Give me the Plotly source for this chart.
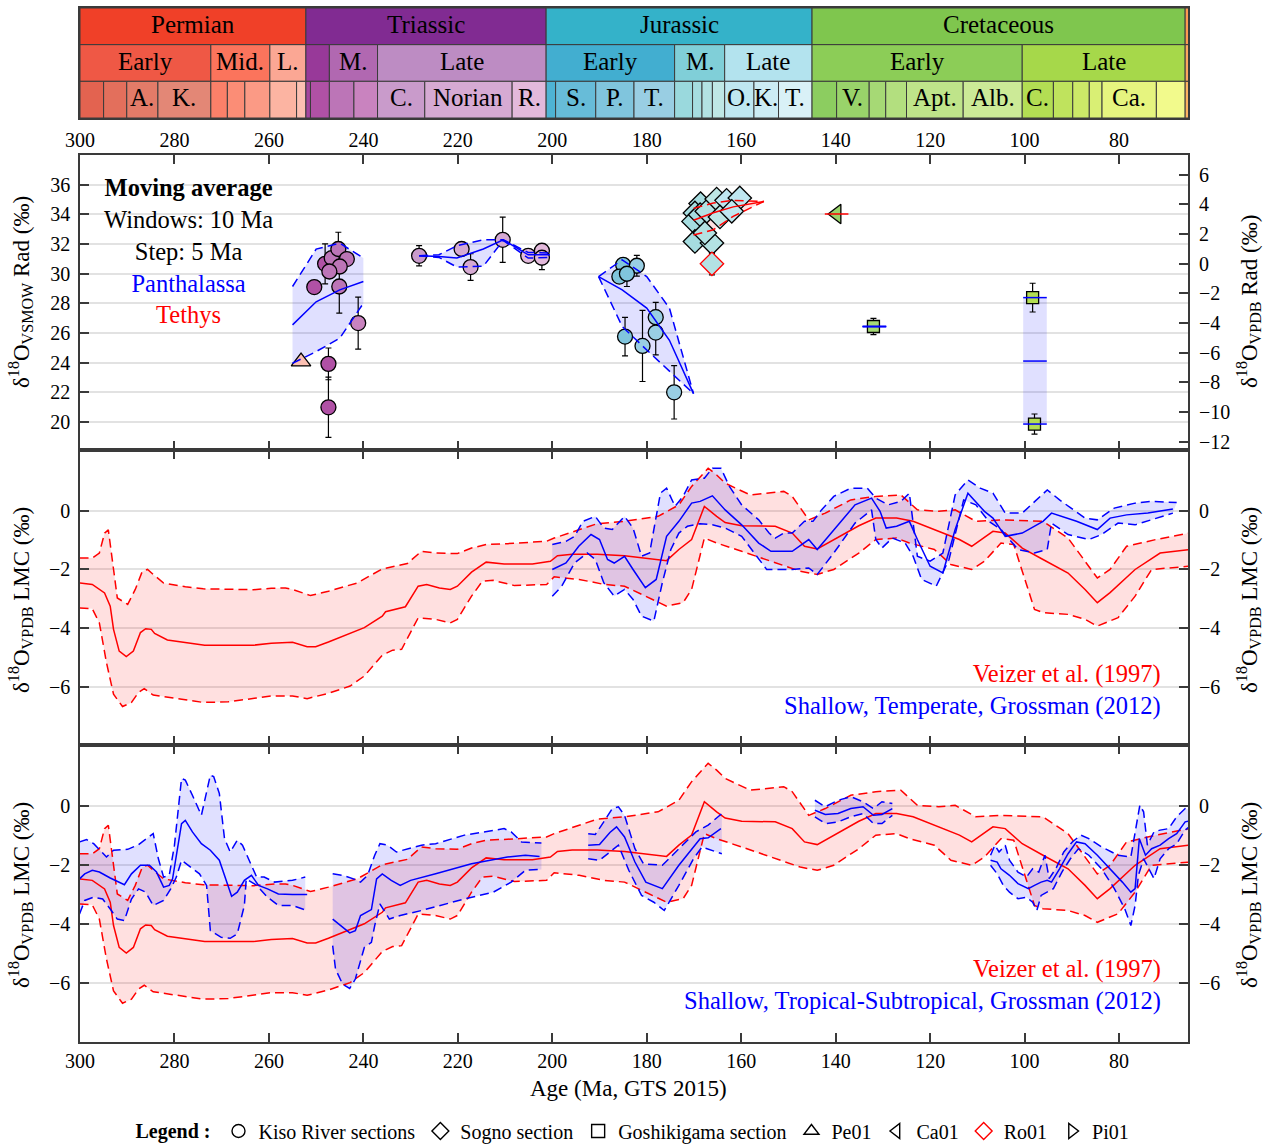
import plotly.graph_objects as go

FONT = "Liberation Serif"
W, H = 1268, 1144
ML, MR, MT, MB = 80, 80, 8, 102
X_RANGE = [300, 65.4]

# ---------------- Geologic time scale (GTS 2015) ----------------
PERIOD_START = [300.0, 252.17, 201.3, 145.0, 66.0]
PERIOD_END = [252.17, 201.3, 145.0, 66.0, 23.03]
PERIOD_LABEL = ["Permian", "Triassic", "Jurassic", "Cretaceous", ""]
PERIOD_COLOR = ["#F04028", "#812B92", "#34B2C9", "#7FC64E", "#FD9A52"]

EPOCH_START = [300.0, 272.3, 259.8, 252.17, 247.2, 237.0, 201.3, 174.1, 163.5, 145.0, 100.5, 66.0]
EPOCH_END = [272.3, 259.8, 252.17, 247.2, 237.0, 201.3, 174.1, 163.5, 145.0, 100.5, 66.0, 56.0]
EPOCH_LABEL = ["Early", "Mid.", "L.", "", "M.", "Late", "Early", "M.", "Late", "Early", "Late", ""]
EPOCH_COLOR = ["#EF5845", "#FB745C", "#FBA794", "#983999", "#B168B1", "#BD8CC3",
               "#42AED0", "#80CFD8", "#B3E3EE", "#8CCD57", "#A6D84A", "#FDA75F"]

STAGE_START = [300.0, 295.0, 290.1, 283.5, 272.3, 268.8, 265.1, 259.8, 254.14,
               252.17, 251.2, 247.2, 242.0, 237.0, 227.0, 208.5,
               201.3, 199.3, 190.8, 182.7, 174.1, 170.3, 168.3, 166.1, 163.5, 157.3, 152.1,
               145.0, 139.8, 132.9, 129.4, 125.0, 113.0, 100.5, 93.9, 89.8, 86.3, 83.6, 72.1, 66.0]
STAGE_END = STAGE_START[1:] + [61.6]
STAGE_LABEL = ["", "", "A.", "K.", "", "", "", "", "",
               "", "", "", "", "C.", "Norian", "R.",
               "", "S.", "P.", "T.", "", "", "", "", "O.", "K.", "T.",
               "", "V.", "", "", "Apt.", "Alb.", "C.", "", "", "", "Ca.", "", ""]
STAGE_COLOR = ["#E36350", "#E36F5C", "#E37B68", "#E38776", "#FB8069", "#FB8D76", "#FB9A85", "#FCB4A2", "#FCC0B2",
               "#A4469F", "#B051A5", "#BC75B7", "#C983BF", "#C99BCB", "#D6AAD3", "#E3B9DB",
               "#4EB3D3", "#67BCD8", "#80C5DD", "#99CEE3", "#9AD9DD", "#A6DDE0", "#B3E2E3", "#BFE7E5",
               "#BFE7F1", "#CCECF4", "#D9F1F7",
               "#8CCD60", "#99D36A", "#A6D975", "#B3DF7F", "#BFE48A", "#CCEA97", "#B3DE53", "#BFE35D",
               "#CCE968", "#D9EF74", "#E6F47F", "#F2FA8C", "#FDB462"]

# ---------------- Panel 1: radiolarian data ----------------
KISO_AGE = [250.4, 248.1, 246.7, 245.3, 243.5, 245.0, 247.2, 245.1, 241.1, 247.4, 247.4,
            228.2, 219.2, 217.3, 210.5, 205.1, 202.2, 202.2,
            185.0, 182.1, 185.8, 184.2, 184.6, 180.9, 178.1, 178.1, 174.2]
KISO_VAL = [29.09, 30.66, 31.05, 31.66, 30.98, 30.48, 30.14, 29.13, 26.66, 23.91, 20.98,
            31.20, 31.66, 30.44, 32.28, 31.20, 31.54, 31.07,
            30.59, 30.53, 29.80, 29.99, 25.75, 25.12, 27.06, 26.02, 21.99]
KISO_ERR = [0, 1.35, 0, 1.13, 0, 0, 0, 1.8, 1.75, 1.07, 2.03,
            0.68, 0, 0.9, 1.53, 0, 0, 0.8,
            0, 0.7, 0, 0.86, 1.3, 2.4, 1.0, 1.5, 1.8]

SOGNO_AGE = [168.6, 169.8, 170.1, 168.7, 167.3, 165.2, 163.1, 160.3, 164.5, 162.0, 169.8, 166.2, 167.7]
SOGNO_VAL = [34.72, 34.09, 33.52, 33.97, 34.20, 35.03, 34.94, 35.10, 33.82, 34.20, 32.17, 32.06, 32.74]
SOGNO_ERR = [0, 0, 0, 0, 0, 0, 0, 0, 0, 0, 0.63, 0.7, 0]

GOSHI_AGE = [132.0, 98.3, 97.9]
GOSHI_VAL = [26.43, 28.38, 19.85]
GOSHI_ERR = [0.55, 0.97, 0.68]

PE01_AGE, PE01_VAL = [253.2], [24.06]
CA01_AGE, CA01_VAL = [139.8], [34.02]
RO01_AGE, RO01_VAL, RO01_ERR = [166.2], [30.66], [0.74]

# moving averages (Panthalassa = blue, Tethys = red)
PAN1_AGE = [255.0, 250.0, 245.0, 240.0]
PAN1_MEAN = [26.54, 28.10, 28.90, 29.47]
PAN1_HI = [29.13, 31.65, 32.05, 31.05]
PAN1_LO = [23.95, 24.74, 25.64, 28.00]

PAN2_AGE = [228.2, 224.0, 220.2, 214.6, 210.4, 205.1, 200.5]
PAN2_MEAN = [31.20, 31.16, 31.05, 31.66, 32.28, 31.27, 31.27]
PAN2_HI = [31.20, 31.27, 31.88, 32.28, 32.28, 31.43, 31.38]
PAN2_LO = [31.20, 31.09, 30.44, 30.50, 32.24, 31.05, 31.09]

PAN3_AGE = [190.2, 185.2, 180.0, 175.2, 170.1]
PAN3_MEAN = [29.80, 28.90, 27.67, 25.50, 21.90]
PAN3_HI = [29.80, 30.93, 29.80, 27.67, 21.90]
PAN3_LO = [29.80, 26.43, 24.85, 23.40, 21.90]

PAN_WIN_AGE = [131.8, 97.8]
PAN_WIN_MEAN = [26.43, 24.10]
PAN_WIN_HI = [26.43, 28.38]
PAN_WIN_LO = [26.43, 19.85]

TET1_AGE = [170.1, 165.9, 161.7, 155.2]
TET1_MEAN = [33.60, 34.10, 34.50, 34.87]
TET1_HI = [34.40, 34.76, 34.94, 34.87]
TET1_LO = [32.60, 32.96, 33.86, 34.87]

TET_WIN_AGE = [139.8]
TET_WIN_MEAN = [34.02]
WIN_HALF = 2.5

VSMOW_TO_VPDB_OFFSET = 30.67

# ---------------- Panels 2 & 3: Veizer et al. (1997) ----------------
VEIZER_MEAN_AGE = [300.1, 297.4, 294.8, 293.6, 292.9, 291.7, 290.2, 288.7, 287.2, 286.1, 284.9, 284.2, 281.5,
                   277.7, 273.6, 263.3, 259.5, 255.0, 251.9, 250.1, 247.4, 239.8, 236.0, 235.3, 231.1, 228.4,
                   226.6, 223.9, 221.6, 220.1, 217.1, 214.0, 210.2, 204.2, 200.4, 198.9, 195.8, 190.5,
                   184.7, 175.8, 173.2, 170.5, 167.8, 165.2, 163.4, 159.9, 152.8, 149.2, 146.6, 143.9, 140.4,
                   135.1, 131.5, 127.1, 123.6, 119.1, 113.8, 111.2, 106.7, 104.1, 100.5, 96.1, 90.8, 87.2,
                   84.6, 81.9, 76.6, 71.3, 65.1]
VEIZER_MEAN = [-2.46, -2.51, -2.80, -3.25, -4.04, -4.78, -4.97, -4.78, -4.15, -4.02, -4.04, -4.18, -4.40,
               -4.49, -4.58, -4.58, -4.51, -4.48, -4.63, -4.63, -4.47, -3.98, -3.59, -3.44, -3.27, -2.57,
               -2.51, -2.63, -2.68, -2.57, -2.09, -1.75, -1.81, -1.81, -1.72, -1.53, -1.48, -1.48,
               -1.53, -1.70, -1.32, -0.98, 0.15, -0.19, -0.40, -0.51, -0.53, -0.76, -1.21, -1.30, -0.98,
               -0.51, -0.25, -0.25, -0.36, -0.64, -0.98, -1.21, -0.70, -0.76, -1.27, -1.66, -2.12, -2.68,
               -3.13, -2.79, -2.00, -1.44, -1.32]
VEIZER_HI_AGE = [300.1, 297.4, 295.9, 294.8, 294.0, 293.3, 292.1, 289.9, 288.3, 286.8, 285.7, 284.5, 282.3,
                 277.7, 273.9, 263.3, 259.5, 256.5, 255.0, 251.2, 247.4, 241.3, 236.0, 230.7, 227.7, 224.7,
                 220.1, 217.1, 214.0, 209.5, 201.2, 199.6, 194.3, 190.5,
                 184.7, 177.6, 173.2, 170.5, 167.0, 165.2, 163.4, 158.1, 151.0, 149.2, 145.7, 142.2, 136.8,
                 131.5, 126.2, 122.7, 118.2, 114.7, 110.3, 105.0, 96.1, 90.8, 84.6, 81.9, 78.4, 72.2, 65.1]
VEIZER_HI = [-1.61, -1.61, -1.44, -0.76, -0.65, -1.55, -2.97, -3.19, -2.68, -2.06, -2.00, -2.17, -2.46,
             -2.59, -2.66, -2.69, -2.64, -2.63, -2.68, -2.89, -2.74, -2.46, -1.98, -1.80, -1.38, -1.44,
             -1.46, -1.27, -1.15, -1.12, -1.04, -0.93, -0.65, -0.44,
             -0.36, -0.19, 0.20, 0.83, 1.45, 1.22, 0.94, 0.54, 0.66, 0.49, -0.31, -0.08, 0.37,
             0.49, 0.54, 0.03, -0.02, 0.03, -0.36, -0.31, -0.36, -0.93, -2.29, -2.00, -1.21, -0.98, -0.76]
VEIZER_LO_AGE = [300.1, 297.4, 295.9, 294.4, 292.9, 291.0, 289.1, 287.6, 286.4, 284.5, 277.7, 273.9, 268.6,
                 259.5, 255.0, 251.9, 247.4, 242.8, 239.8, 236.0, 233.8, 231.9, 228.4, 224.7, 221.6, 220.1,
                 217.1, 214.8, 212.5, 208.0, 201.2, 199.6, 194.3, 189.0,
                 184.7, 177.6, 175.8, 172.3, 170.5, 167.8, 165.2, 159.9, 152.8, 147.5, 143.9, 140.4, 135.1,
                 131.5, 127.1, 124.4, 119.1, 115.6, 111.2, 108.5, 105.0, 102.3, 97.9, 96.1, 90.8, 87.2,
                 84.6, 80.2, 76.6, 73.1, 65.1]
VEIZER_LO = [-3.31, -3.34, -3.82, -5.17, -6.25, -6.67, -6.53, -6.19, -6.06, -6.28, -6.44, -6.53, -6.51,
             -6.31, -6.31, -6.40, -6.22, -5.97, -5.63, -4.92, -4.75, -4.72, -3.65, -3.70, -3.82, -3.70,
             -2.91, -2.40, -2.37, -2.55, -2.51, -2.25, -2.34, -2.51,
             -2.57, -3.13, -3.25, -3.13, -2.68, -0.93, -1.10, -1.38, -1.78, -2.06, -2.17, -2.00, -1.44,
             -0.98, -0.93, -1.10, -1.32, -1.83, -2.00, -1.72, -1.10, -1.15, -3.36, -3.47, -3.53, -3.70,
             -3.93, -3.64, -2.91, -2.00, -1.89]

# ---------------- Panel 2: Shallow, Temperate (Grossman 2012) ----------------
TEMP_MEAN_AGE = [200.0, 197.1, 194.4, 191.8, 190.0, 188.3, 186.9, 184.7, 182.9, 180.3, 178.0, 175.8, 173.2,
                 170.5, 168.7, 166.1, 163.4, 159.9, 156.3, 153.7, 149.2, 145.7, 143.9, 140.4, 135.9, 132.4,
                 130.6, 129.3, 127.1, 124.4, 122.7, 120.0, 117.3, 114.7, 112.0, 108.5, 106.7, 104.1, 100.5,
                 96.1, 94.3, 89.0, 84.6, 81.9, 78.4, 73.9, 68.6]
TEMP_MEAN = [-2.00, -1.78, -1.21, -0.81, -0.98, -1.66, -1.78, -1.55, -2.00, -2.62, -2.34, -0.87, -0.36,
             0.26, 0.32, 0.51, 0.03, -0.48, -1.10, -1.38, -1.38, -0.98, -1.32, -0.64, 0.20, 0.43,
             -0.02, -0.59, -0.53, -0.36, -0.98, -1.89, -2.12, -0.64, 0.60, -0.02, -0.25, -0.87, -0.76,
             -0.36, -0.08, -0.36, -0.64, -0.25, -0.14, -0.08, 0.06]
TEMP_HI_AGE = [200.0, 197.1, 195.3, 193.5, 190.9, 189.1, 187.3, 184.7, 182.9, 181.1, 179.4, 177.1, 175.8,
               174.0, 172.3, 170.5, 167.8, 166.1, 164.3, 162.5, 159.9, 156.3, 154.1, 152.8, 151.0, 149.2,
               146.6, 144.8, 143.0, 140.4, 136.8, 133.3, 131.5, 128.9, 126.2, 124.4, 122.7, 120.0, 117.3,
               114.7, 112.0, 109.4, 106.7, 104.1, 100.5, 96.1, 95.2, 92.6, 87.2, 84.6, 81.0, 76.6, 73.1, 67.8]
TEMP_HI = [-1.15, -1.04, -0.87, -0.36, -0.19, -0.59, -0.64, -0.19, -0.59, -1.55, -1.44, 0.60, 0.77,
           0.15, 0.49, 1.05, 1.11, 1.45, 1.45, 0.83, 0.20, -0.31, -0.76, -0.93, -0.76, -0.76,
           -0.36, -0.36, 0.03, 0.49, 0.77, 0.77, 0.43, 0.20, 0.32, 0.60, -1.55, -1.72, -1.44,
           0.54, 1.05, 0.77, 0.60, -0.08, -0.08, 0.60, 0.71, 0.37, -0.25, -0.31, 0.09, 0.26, 0.32, 0.28]
TEMP_LO_AGE = [200.0, 198.0, 195.3, 192.6, 190.9, 189.1, 186.9, 184.7, 182.9, 181.1, 178.5, 176.7, 174.9,
               173.2, 171.4, 168.7, 166.1, 163.4, 159.9, 156.3, 154.6, 149.2, 145.7, 143.9, 140.4, 135.9,
               132.4, 131.5, 130.2, 128.0, 125.3, 123.6, 121.8, 118.7, 116.0, 112.9, 110.3, 107.6, 105.0,
               101.4, 97.9, 95.2, 94.3, 90.8, 86.4, 83.7, 80.2, 76.6, 73.1, 68.6]
TEMP_LO = [-2.91, -2.57, -1.78, -1.44, -1.66, -2.45, -2.91, -2.68, -3.02, -3.59, -3.76, -2.45, -1.32,
           -0.76, -0.53, -0.44, -0.48, -0.59, -0.87, -1.66, -2.00, -2.00, -1.95, -2.17, -1.44, -0.42,
           0.03, -0.98, -1.27, -0.93, -1.10, -1.55, -2.34, -2.57, -1.66, 0.37, 0.20, -0.36, -0.64,
           -1.32, -1.44, -1.32, -0.42, -0.81, -0.98, -0.81, -0.42, -0.48, -0.31, -0.08]

# ---------------- Panel 3: Shallow, Tropical-Subtropical (Grossman 2012), segments ----------------
TROP_MEAN_AGE = [
    [300.1, 299.0, 297.4, 295.9, 293.6, 290.6, 289.1, 287.2, 285.3, 283.8, 282.3, 281.1, 280.4, 279.2, 278.5,
     277.7, 276.2, 274.3, 272.4, 270.5, 269.0, 267.9, 266.7, 265.2, 263.7, 262.2, 260.3, 258.0, 255.0, 251.9],
    [246.5, 244.4, 242.9, 241.7, 240.6, 238.3, 237.2, 236.0, 234.1, 232.2, 230.0, 224.7, 217.1, 209.5, 205.7, 202.7],
    [192.4, 190.0, 187.8, 186.4, 184.7, 182.5, 180.2, 176.7, 173.2, 168.7, 167.0, 164.3],
    [144.4, 142.2, 139.5, 136.8, 134.2, 132.0, 130.2, 128.0],
    [107.2, 105.8, 105.0, 103.2, 101.4, 99.2, 97.9, 96.5, 95.2, 94.3, 92.6, 90.8, 89.0, 87.2, 84.6, 81.9,
     79.3, 77.5, 76.6, 75.7, 74.4, 73.1, 71.3, 69.5, 67.8, 66.0, 64.7],
]
TROP_MEAN = [
    [-2.46, -2.29, -2.17, -2.23, -2.43, -2.66, -2.29, -2.00, -2.00, -2.23, -2.74, -2.68, -2.46, -1.32, -0.59,
     -0.48, -0.87, -1.27, -1.49, -1.83, -2.57, -3.05, -2.91, -2.51, -2.34, -2.68, -2.80, -2.97, -2.99, -2.99],
    [-3.82, -4.10, -4.29, -4.21, -3.70, -3.50, -2.46, -2.29, -2.51, -2.68, -2.51, -2.29, -1.95, -1.72, -1.66, -1.70],
    [-1.32, -1.30, -0.89, -0.70, -1.04, -1.89, -2.57, -2.79, -2.00, -1.10, -1.07, -0.76],
    [-0.14, -0.28, -0.25, -0.08, -0.02, -0.31, -0.28, -0.08],
    [-1.83, -1.89, -2.12, -2.34, -2.62, -2.79, -2.68, -2.57, -2.51, -2.57, -2.12, -1.61, -1.21, -1.27, -1.66, -2.12,
     -2.57, -2.91, -2.79, -1.10, -1.66, -1.44, -1.32, -1.10, -0.93, -0.53, -0.48],
]
TROP_HI_AGE = [
    [300.1, 298.6, 297.1, 295.5, 294.4, 292.9, 289.9, 287.6, 284.5, 283.4, 282.3, 281.1, 280.0, 278.5, 277.7,
     276.2, 274.3, 272.4, 271.7, 270.5, 269.4, 268.2, 266.7, 265.6, 264.1, 262.6, 261.0, 258.8, 255.0, 252.3],
    [246.5, 244.4, 242.1, 240.6, 239.1, 237.6, 236.5, 234.9, 233.0, 230.7, 227.7, 224.7, 218.6, 210.2, 208.7,
     206.5, 202.3],
    [192.4, 190.9, 189.1, 187.3, 186.0, 184.7, 182.5, 180.7, 176.7, 173.2, 169.6, 167.0, 164.1],
    [144.4, 142.2, 139.5, 136.8, 134.2, 132.0, 130.2, 128.0],
    [107.2, 106.3, 105.4, 104.1, 103.2, 101.4, 99.6, 98.3, 97.0, 95.7, 94.8, 93.4, 91.7, 89.9, 88.1, 86.4, 83.7,
     80.2, 77.5, 76.6, 75.6, 74.8, 74.0, 72.6, 71.3, 69.5, 67.8, 66.0, 64.7],
]
TROP_HI = [
    [-1.21, -1.13, -1.27, -1.55, -1.72, -1.49, -1.46, -1.30, -0.93, -1.78, -2.40, -2.34, -1.32, 0.94, 0.88,
     0.37, -0.31, 1.05, 1.00, 0.43, -1.10, -1.55, -1.15, -1.32, -1.89, -2.40, -2.40, -2.57, -2.51, -2.40],
    [-2.29, -2.34, -2.46, -2.57, -2.34, -1.66, -1.27, -1.32, -1.55, -1.44, -1.32, -1.27, -0.98, -0.76, -0.87,
     -1.21, -1.25],
    [-0.93, -0.96, -0.53, -0.08, -0.02, -0.31, -1.44, -1.95, -2.00, -1.44, -0.87, -0.64, -0.25],
    [0.20, -0.02, 0.20, 0.32, 0.15, -0.08, 0.15, 0.09],
    [-1.66, -1.32, -1.55, -1.32, -1.83, -2.23, -2.40, -2.12, -2.23, -1.66, -2.45, -2.12, -1.55, -1.21, -0.98,
     -1.10, -1.38, -1.66, -1.72, -0.87, 0.03, -0.19, -1.32, -0.87, -0.81, -0.76, -0.36, -0.08, -0.14],
]
TROP_LO_AGE = [
    [300.1, 299.0, 297.1, 295.2, 293.6, 292.1, 290.6, 289.1, 287.6, 286.1, 284.5, 282.3, 280.8, 279.6, 278.5,
     277.0, 274.7, 273.2, 272.4, 270.1, 268.2, 266.7, 265.2, 264.8, 262.6, 260.3, 258.0, 255.0, 252.3],
    [246.5, 245.9, 244.4, 242.9, 241.7, 239.8, 238.3, 237.6, 236.5, 234.5, 232.2, 227.7, 218.6, 212.5, 208.7,
     205.7, 202.3],
    [192.4, 190.0, 187.8, 186.0, 183.8, 181.1, 178.5, 176.3, 173.2, 170.1, 168.3, 166.1, 164.1],
    [144.4, 142.2, 139.5, 136.8, 134.2, 132.0, 130.2, 128.0],
    [107.2, 105.8, 104.5, 103.2, 101.4, 99.6, 98.3, 97.4, 96.5, 95.2, 93.9, 92.1, 90.3, 88.6, 86.4, 83.7, 81.0,
     78.8, 77.5, 76.6, 75.9, 74.8, 73.5, 72.6, 71.3, 69.5, 67.8, 66.0, 64.7],
]
TROP_LO = [
    [-3.65, -3.19, -3.08, -3.14, -3.48, -3.82, -3.87, -3.14, -2.80, -2.91, -3.36, -3.19, -2.80, -2.40, -1.83,
     -2.00, -2.29, -2.68, -4.21, -4.44, -4.47, -4.32, -3.36, -2.46, -2.68, -3.08, -3.36, -3.36, -3.51],
    [-4.72, -5.51, -6.02, -6.17, -5.85, -4.78, -4.61, -4.04, -3.31, -3.82, -3.70, -3.53, -3.14, -2.91, -2.57,
     -2.17, -2.14],
    [-1.78, -1.83, -1.55, -1.32, -2.17, -3.02, -3.25, -3.53, -2.68, -1.78, -1.38, -1.49, -1.61],
    [-0.36, -0.59, -0.53, -0.36, -0.25, -0.59, -0.59, -0.31],
    [-2.00, -2.29, -2.68, -2.91, -3.13, -3.08, -3.25, -3.53, -3.02, -2.91, -2.79, -2.23, -1.78, -1.44, -1.66,
     -2.12, -2.79, -3.47, -4.04, -3.36, -2.34, -1.78, -2.17, -2.45, -1.78, -1.44, -1.27, -0.81, -0.64],
]

X_TICKS = list(range(300, 79, -20))
RAD_TICKS = list(range(20, 37, 2))
RAD_VPDB_TICKS = list(range(-12, 7, 2))
LMC_TICKS = [0, -2, -4, -6]
RAD_RANGE = [18.1, 38.0]
LMC_RANGE = [-7.98, 2.07]

LEGEND_NAMES = ["Kiso River sections", "Sogno section", "Goshikigama section", "Pe01", "Ca01", "Ro01", "Pi01"]
LEGEND_SYMBOLS = ["circle-open", "diamond-open", "square-open", "triangle-up-open", "triangle-left-open",
                  "diamond-open", "triangle-right-open"]
LEGEND_COLORS = ["black", "black", "black", "black", "black", "red", "black"]

BLUE = "#0000FF"
RED = "#FF0000"
BLUE_FILL = "rgba(0,0,255,0.12)"
RED_FILL = "rgba(255,0,0,0.12)"
DASH = "9px,5px"
AXC = "#3a3a3a"


def px_x(x):
    return (x - ML) / (W - ML - MR)


def px_y(y):
    return (H - MB - y) / (H - MT - MB)


def stage_color(age):
    for s, e, c in zip(STAGE_START, STAGE_END, STAGE_COLOR):
        if s >= age > e:
            return c
    return "#cccccc"


def merge(*ds, **kw):
    out = {}
    for d in ds:
        out.update(d)
    out.update(kw)
    return out


fig = go.Figure()


def band(xa, ya, a_hi, v_hi, a_lo, v_lo, fill):
    fig.add_trace(go.Scatter(x=list(a_hi) + list(a_lo)[::-1], y=list(v_hi) + list(v_lo)[::-1],
                             mode="lines", fill="toself", fillcolor=fill, line=dict(width=0, color=fill),
                             hoverinfo="skip", showlegend=False, xaxis=xa, yaxis=ya))


def curve(xa, ya, ages, vals, color, dash="solid", width=1.5):
    fig.add_trace(go.Scatter(x=ages, y=vals, mode="lines",
                             line=dict(color=color, width=width, dash=dash),
                             hoverinfo="skip", showlegend=False, xaxis=xa, yaxis=ya))


def points(ages, vals, errs, symbol, size, edge="black"):
    fig.add_trace(go.Scatter(
        x=ages, y=vals, mode="markers",
        marker=dict(symbol=symbol, size=size, color=[stage_color(a) for a in ages],
                    line=dict(color=edge, width=1.3)),
        error_y=dict(type="data", array=errs, color="black", thickness=1.2, width=3, visible=True),
        hoverinfo="skip", showlegend=False, xaxis="x", yaxis="y"))


# ---------- Panel 1 ----------
PAN_SETS = [(PAN1_AGE, PAN1_MEAN, PAN1_HI, PAN1_LO),
            (PAN2_AGE, PAN2_MEAN, PAN2_HI, PAN2_LO),
            (PAN3_AGE, PAN3_MEAN, PAN3_HI, PAN3_LO)]
for a, m, hi, lo in PAN_SETS:
    band("x", "y", a, hi, a, lo, BLUE_FILL)
band("x", "y", TET1_AGE, TET1_HI, TET1_AGE, TET1_LO, RED_FILL)
for c, m, hi, lo in zip(PAN_WIN_AGE, PAN_WIN_MEAN, PAN_WIN_HI, PAN_WIN_LO):
    band("x", "y", [c + WIN_HALF, c - WIN_HALF], [hi, hi], [c + WIN_HALF, c - WIN_HALF], [lo, lo], BLUE_FILL)

points(KISO_AGE, KISO_VAL, KISO_ERR, "circle", 15)
points(SOGNO_AGE, SOGNO_VAL, SOGNO_ERR, "diamond", 18)
points(RO01_AGE, RO01_VAL, RO01_ERR, "diamond", 18, edge="red")
points(GOSHI_AGE, GOSHI_VAL, GOSHI_ERR, "square", 12)
points(PE01_AGE, PE01_VAL, [0], "triangle-up", 17)
points(CA01_AGE, CA01_VAL, [0], "triangle-left", 17)

for a, m, hi, lo in PAN_SETS:
    curve("x", "y", a, hi, BLUE, DASH)
    curve("x", "y", a, lo, BLUE, DASH)
    curve("x", "y", a, m, BLUE)
curve("x", "y", TET1_AGE, TET1_HI, RED, DASH)
curve("x", "y", TET1_AGE, TET1_LO, RED, DASH)
curve("x", "y", TET1_AGE, TET1_MEAN, RED)
for c, m, hi, lo in zip(PAN_WIN_AGE, PAN_WIN_MEAN, PAN_WIN_HI, PAN_WIN_LO):
    for v in (hi, lo, m):
        curve("x", "y", [c + WIN_HALF, c - WIN_HALF], [v, v], BLUE)
for c, m in zip(TET_WIN_AGE, TET_WIN_MEAN):
    curve("x", "y", [c + WIN_HALF, c - WIN_HALF], [m, m], RED)

# ---------- Panel 2 ----------
band("x2", "y3", VEIZER_HI_AGE, VEIZER_HI, VEIZER_LO_AGE, VEIZER_LO, RED_FILL)
band("x2", "y3", TEMP_HI_AGE, TEMP_HI, TEMP_LO_AGE, TEMP_LO, BLUE_FILL)
curve("x2", "y3", VEIZER_HI_AGE, VEIZER_HI, RED, DASH)
curve("x2", "y3", VEIZER_LO_AGE, VEIZER_LO, RED, DASH)
curve("x2", "y3", VEIZER_MEAN_AGE, VEIZER_MEAN, RED)
curve("x2", "y3", TEMP_HI_AGE, TEMP_HI, BLUE, DASH)
curve("x2", "y3", TEMP_LO_AGE, TEMP_LO, BLUE, DASH)
curve("x2", "y3", TEMP_MEAN_AGE, TEMP_MEAN, BLUE)

# ---------- Panel 3 ----------
band("x3", "y5", VEIZER_HI_AGE, VEIZER_HI, VEIZER_LO_AGE, VEIZER_LO, RED_FILL)
for ah, vh, al, vl in zip(TROP_HI_AGE, TROP_HI, TROP_LO_AGE, TROP_LO):
    band("x3", "y5", ah, vh, al, vl, BLUE_FILL)
curve("x3", "y5", VEIZER_HI_AGE, VEIZER_HI, RED, DASH)
curve("x3", "y5", VEIZER_LO_AGE, VEIZER_LO, RED, DASH)
curve("x3", "y5", VEIZER_MEAN_AGE, VEIZER_MEAN, RED)
for ah, vh, al, vl, am, vm in zip(TROP_HI_AGE, TROP_HI, TROP_LO_AGE, TROP_LO, TROP_MEAN_AGE, TROP_MEAN):
    curve("x3", "y5", ah, vh, BLUE, DASH)
    curve("x3", "y5", al, vl, BLUE, DASH)
    curve("x3", "y5", am, vm, BLUE)

# dummy traces for right-hand axes and timescale
for xa, ya in [("x", "y2"), ("x2", "y4"), ("x3", "y6"), ("x4", "y7")]:
    fig.add_trace(go.Scatter(x=[None], y=[None], mode="markers", showlegend=False,
                             hoverinfo="skip", xaxis=xa, yaxis=ya))

# legend entries
for n, s, c in zip(LEGEND_NAMES, LEGEND_SYMBOLS, LEGEND_COLORS):
    fig.add_trace(go.Scatter(x=[None], y=[None], mode="markers", name=n,
                             marker=dict(symbol=s, size=13, color=c, line=dict(color=c, width=1.4)),
                             showlegend=True, xaxis="x", yaxis="y"))

# ---------- Timescale shapes & labels ----------
shapes = []
annotations = []
rows = [(PERIOD_START, PERIOD_END, PERIOD_LABEL, PERIOD_COLOR, 2, 3),
        (EPOCH_START, EPOCH_END, EPOCH_LABEL, EPOCH_COLOR, 1, 2),
        (STAGE_START, STAGE_END, STAGE_LABEL, STAGE_COLOR, 0, 1)]
for starts, ends, labels, colors, y0, y1 in rows:
    for s, e, lab, col in zip(starts, ends, labels, colors):
        shapes.append(dict(type="rect", xref="x4", yref="y7", x0=s, x1=e, y0=y0, y1=y1,
                           fillcolor=col, line=dict(color=AXC, width=1), layer="below"))
        if lab:
            annotations.append(dict(xref="x4", yref="y7", x=(s + e) / 2, y=(y0 + y1) / 2, text=lab,
                                    yshift=2, showarrow=False, font=dict(family=FONT, size=25, color="black")))

# ---------- Text annotations ----------
annotations.append(dict(
    xref="paper", yref="paper", x=px_x(188), y=px_y(251), xanchor="center", yanchor="middle",
    text="<b>Moving average</b><br>Windows: 10 Ma<br>Step: 5 Ma<br>"
         "<span style='color:#0000FF'>Panthalassa</span><br><span style='color:#FF0000'>Tethys</span>",
    align="center", showarrow=False, font=dict(family=FONT, size=24.5, color="black")))
for yc, label in [(690, "Shallow, Temperate, Grossman (2012)"), (985, "Shallow, Tropical-Subtropical, Grossman (2012)")]:
    annotations.append(dict(
        xref="paper", yref="paper", x=px_x(1163), y=px_y(yc), xanchor="right", yanchor="middle",
        text="<span style='color:#FF0000'>Veizer et al. (1997)</span><br><span style='color:#0000FF'>%s</span>" % label,
        align="right", showarrow=False, font=dict(family=FONT, size=24.5)))

TITLE_RAD_L = "δ<sup>18</sup>O<sub>VSMOW</sub> Rad (‰)"
TITLE_RAD_R = "δ<sup>18</sup>O<sub>VPDB</sub> Rad (‰)"
TITLE_LMC = "δ<sup>18</sup>O<sub>VPDB</sub> LMC (‰)"
for xp, yp, t in [(20, 292, TITLE_RAD_L), (1248, 302, TITLE_RAD_R),
                  (20, 600, TITLE_LMC), (1248, 600, TITLE_LMC),
                  (20, 895, TITLE_LMC), (1248, 895, TITLE_LMC)]:
    annotations.append(dict(xref="paper", yref="paper", x=px_x(xp), y=px_y(yp), text=t, textangle=-90,
                            showarrow=False, xanchor="center", yanchor="middle",
                            font=dict(family=FONT, size=23, color="black")))
annotations.append(dict(xref="paper", yref="paper", x=px_x(628), y=px_y(1088), text="Age (Ma, GTS 2015)",
                        showarrow=False, xanchor="center", yanchor="middle",
                        font=dict(family=FONT, size=23, color="black")))

# ---------- Axes ----------
tickfont = dict(family=FONT, size=20, color="black")
base = dict(showline=True, linecolor=AXC, linewidth=1.5, ticks="inside", ticklen=9, tickcolor=AXC,
            tickwidth=1.5, tickfont=tickfont, zeroline=False, fixedrange=True)
xb = merge(base, range=X_RANGE, tickmode="array", tickvals=X_TICKS, mirror="ticks", showgrid=False, domain=[0, 1])
grid = dict(showgrid=True, gridcolor="#e2e2e2", gridwidth=1.5)

d_ts = [px_y(118), px_y(8)]
d_p1 = [px_y(450), px_y(155)]
d_p2 = [px_y(745), px_y(450)]
d_p3 = [0, px_y(745)]

fig.update_layout(
    width=W, height=H, margin=dict(l=ML, r=MR, t=MT, b=MB, autoexpand=False),
    paper_bgcolor="white", plot_bgcolor="rgba(0,0,0,0)",
    font=dict(family=FONT, color="black"),
    shapes=shapes, annotations=annotations,
    xaxis=merge(xb, anchor="y", side="top", showticklabels=True, ticklabelstandoff=-2),
    yaxis=merge(base, grid, domain=d_p1, anchor="x", range=RAD_RANGE, tickvals=RAD_TICKS, mirror=True,
                ticklabelstandoff=4),
    yaxis2=merge(base, overlaying="y", side="right", anchor="x", showline=False, showgrid=False,
                 range=[RAD_RANGE[0] - VSMOW_TO_VPDB_OFFSET, RAD_RANGE[1] - VSMOW_TO_VPDB_OFFSET],
                 tickvals=RAD_VPDB_TICKS, ticklabelstandoff=10),
    xaxis2=merge(xb, anchor="y3", showticklabels=False),
    yaxis3=merge(base, grid, domain=d_p2, anchor="x2", range=LMC_RANGE, tickvals=LMC_TICKS, mirror=True,
                 ticklabelstandoff=4),
    yaxis4=merge(base, overlaying="y3", side="right", anchor="x2", showline=False, showgrid=False,
                 range=LMC_RANGE, tickvals=LMC_TICKS, ticklabelstandoff=10),
    xaxis3=merge(xb, anchor="y5", side="bottom", showticklabels=True, ticklabelstandoff=0),
    yaxis5=merge(base, grid, domain=d_p3, anchor="x3", range=LMC_RANGE, tickvals=LMC_TICKS, mirror=True,
                 ticklabelstandoff=4),
    yaxis6=merge(base, overlaying="y5", side="right", anchor="x3", showline=False, showgrid=False,
                 range=LMC_RANGE, tickvals=LMC_TICKS, ticklabelstandoff=10),
    xaxis4=dict(domain=[0, 1], anchor="y7", range=X_RANGE, showticklabels=False, ticks="", showgrid=False,
                zeroline=False, showline=True, mirror=True, linecolor=AXC, linewidth=1.5, fixedrange=True),
    yaxis7=dict(domain=d_ts, anchor="x4", range=[0, 3], showticklabels=False, ticks="", showgrid=False,
                zeroline=False, showline=True, mirror=True, linecolor=AXC, linewidth=1.5, fixedrange=True),
    legend=dict(orientation="h", x=0.5, xanchor="center", y=px_y(1131), yanchor="middle",
                font=dict(family=FONT, size=20, color="black"), bgcolor="rgba(0,0,0,0)",
                title=dict(text="<b>Legend :</b>", side="left", font=dict(family=FONT, size=20)),
                itemsizing="trace", traceorder="normal"),
)

fig.write_html("out.html")
